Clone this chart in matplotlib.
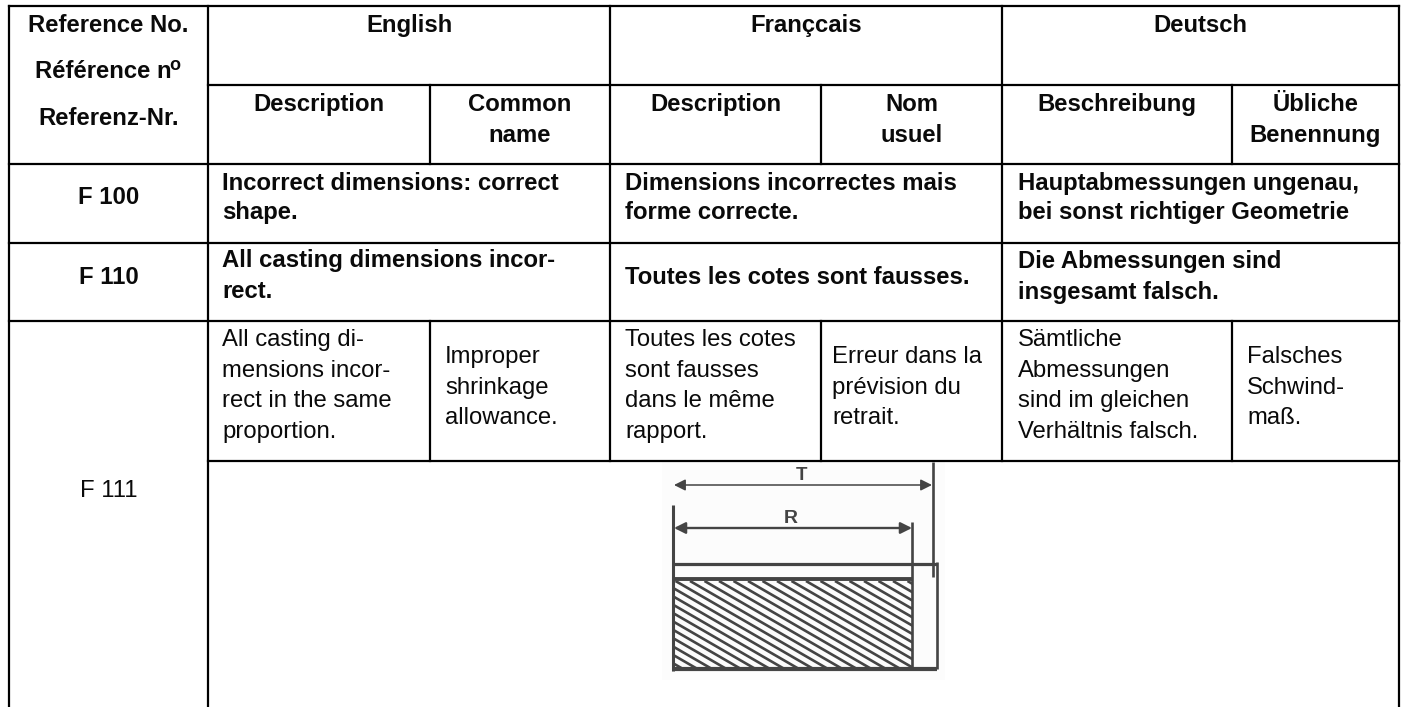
import numpy as np
import matplotlib
matplotlib.use('Agg')
import matplotlib.pyplot as plt
from matplotlib.collections import LineCollection
from matplotlib.patches import Rectangle

plt.rcParams['font.family'] = ['Liberation Sans', 'DejaVu Sans']

# Table text
ref_header = ['Reference No.', 'Référence n', 'Referenz-Nr.']
languages = ['English', 'Françcais', 'Deutsch']
sub_headers = ['Description', 'Common\nname', 'Description', 'Nom\nusuel',
               'Beschreibung', 'Übliche\nBenennung']
ref_codes = ['F 100', 'F 110', 'F 111']
f100_text = ['Incorrect dimensions: correct\nshape.',
             'Dimensions incorrectes mais\nforme correcte.',
             'Hauptabmessungen ungenau,\nbei sonst richtiger Geometrie']
f110_text = ['All casting dimensions incor-\nrect.',
             'Toutes les cotes sont fausses.',
             'Die Abmessungen sind\ninsgesamt falsch.']
f111_text = ['All casting di-\nmensions incor-\nrect in the same\nproportion.',
             'Improper\nshrinkage\nallowance.',
             'Toutes les cotes\nsont fausses\ndans le même\nrapport.',
             'Erreur dans la\nprévision du\nretrait.',
             'Sämtliche\nAbmessungen\nsind im gleichen\nVerhältnis falsch.',
             'Falsches\nSchwind-\nmaß.']

# Grid positions in pixels
col_x = [9, 208, 430, 610, 821, 1002, 1232, 1399]
row_y = [6, 84.5, 163.5, 243, 320.5, 460.5, 707]
fs = 17.2
line_h = 30.7
black = '#000000'
grey = '#444444'

fig = plt.figure(figsize=(14.05, 7.07), dpi=100)
ax = fig.add_axes([0, 0, 1, 1])
ax.set_xlim(0, 1405)
ax.set_ylim(707, 0)
ax.axis('off')


# Draw text line by line so that the line spacing matches the reference
def put_lines(x, y, text, ha='left', weight='normal', size=fs, step=line_h):
    for i, line in enumerate(text.split('\n')):
        ax.text(x, y + i * step, line, ha=ha, va='baseline', fontsize=size,
                fontweight=weight, color='#0a0a0a')


# Grid lines
lw = 1.6
for y in [row_y[0], row_y[2], row_y[3], row_y[4]]:
    ax.plot([col_x[0], col_x[-1]], [y, y], color=black, lw=lw, solid_capstyle='projecting')
ax.plot([col_x[1], col_x[-1]], [row_y[1], row_y[1]], color=black, lw=lw)
ax.plot([col_x[1], col_x[-1]], [row_y[5], row_y[5]], color=black, lw=lw)
for x in [col_x[0], col_x[1], col_x[-1]]:
    ax.plot([x, x], [row_y[0], row_y[-1]], color=black, lw=lw)
for x in [col_x[3], col_x[5]]:
    ax.plot([x, x], [row_y[0], row_y[5]], color=black, lw=lw)
for x in [col_x[2], col_x[4], col_x[6]]:
    ax.plot([x, x], [row_y[1], row_y[2]], color=black, lw=lw)
    ax.plot([x, x], [row_y[4], row_y[5]], color=black, lw=lw)

# Header
ref_cx = (col_x[0] + col_x[1]) / 2
for label, y in zip(ref_header, [32, 78, 125]):
    put_lines(ref_cx - (5 if label == ref_header[1] else 0), y, label, ha='center', weight='bold')
ax.text(175, 70, 'o', ha='center', va='baseline', fontsize=13, fontweight='bold', color='#0a0a0a')
for i, label in enumerate(languages):
    put_lines((col_x[2 * i + 1] + col_x[2 * i + 3]) / 2, 32, label, ha='center', weight='bold')
for i, label in enumerate(sub_headers):
    put_lines((col_x[i + 1] + col_x[i + 2]) / 2, 111, label, ha='center', weight='bold')

# Bold rows
text_x = [222, 625, 1017.5]
for label, y in zip(ref_codes[:2], [204, 284]):
    put_lines(ref_cx, y, label, ha='center', weight='bold')
for x, label in zip(text_x, f100_text):
    put_lines(x, 190, label, weight='bold', step=29)
for x, label, y in zip(text_x, f110_text, [267, 284, 268]):
    put_lines(x, y, label, weight='bold', step=30.5)

# F 111 row
put_lines(ref_cx, 497, ref_codes[2], ha='center')
f111_x = [222, 445, 625, 832, 1017.5, 1247]
for i, (x, label) in enumerate(zip(f111_x, f111_text)):
    put_lines(x, 346 if i % 2 == 0 else 363, label)

# Sketch of the casting
ax.add_patch(Rectangle((662, 462), 283, 218, facecolor='#fcfcfc', edgecolor='none', zorder=0))
sketch_lines = [
    ([933, 933], [462, 577], 1.9),
    ([673, 673], [505, 671], 2.2),
    ([912, 912], [522, 669], 1.9),
    ([937, 937], [562, 669], 1.9),
    ([673, 937], [564, 564], 2.3),
    ([673, 912], [579, 579], 2.8),
    ([672, 937], [669, 669], 3.0),
]
for xs, ys, w in sketch_lines:
    ax.plot(xs, ys, color=grey, lw=w, solid_capstyle='butt')
for y, x1, x2, w in [(485, 674, 932, 1.1), (528, 674, 912, 1.7)]:
    ax.annotate('', xy=(x1, y), xytext=(x2, y),
                arrowprops=dict(arrowstyle='<|-|>', color=grey, lw=w, shrinkA=0, shrinkB=0,
                                mutation_scale=17))
ax.text(801.5, 480, 'T', ha='center', va='baseline', fontsize=13.5, fontweight='bold', color=grey)
ax.text(791, 523, 'R', ha='center', va='baseline', fontsize=14, fontweight='bold', color=grey)

# Hatching of the section, clipped to the casting
clip = Rectangle((674, 581), 238, 87, transform=ax.transData)
segs = [[(x0, 581), (x0 + 260, 581 + 150)] for x0 in np.arange(400, 912, 14.5)]
hatch = LineCollection(segs, colors=grey, linewidths=1.9)
ax.add_collection(hatch)
hatch.set_clip_path(clip)

fig.savefig('out.png', dpi=100)
